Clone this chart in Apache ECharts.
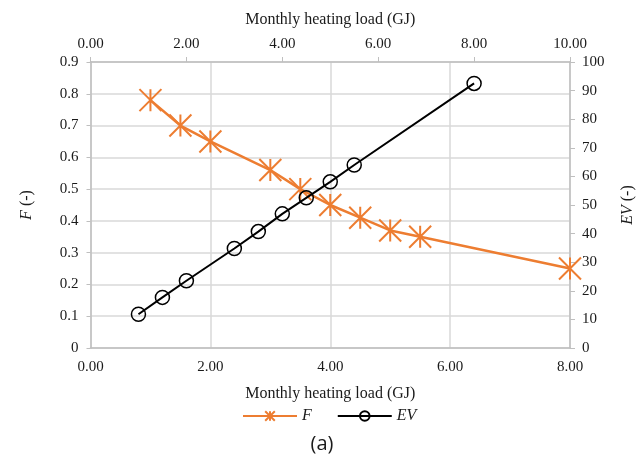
<!DOCTYPE html>
<html>
<head>
<meta charset="utf-8">
<script src="https://cdn.jsdelivr.net/npm/echarts@6/dist/echarts.min.js"></script>
<style>
html,body{margin:0;padding:0;background:#fff;}
#chart{width:644px;height:461px;}
</style>
</head>
<body>
<div id="chart"></div>
<script>
// Data
const loadX = [1.0, 1.5, 2.0, 3.0, 3.5, 4.0, 4.5, 5.0, 5.5, 8.0];          // bottom axis (F)
const fValues = [0.78, 0.70, 0.65, 0.56, 0.50, 0.45, 0.41, 0.37, 0.35, 0.25];
const loadXTop = [1.0, 1.5, 2.0, 3.0, 3.5, 4.0, 4.5, 5.0, 5.5, 8.0];       // top axis (EV)
const evValues = [11.8, 17.7, 23.5, 34.8, 40.7, 46.9, 52.5, 58.1, 64.0, 92.5];
const seriesNames = ['F', 'EV'];
const xAxisTitle = 'Monthly heating load (GJ)';
const caption = '(a)';

const serif = '"Liberation Serif", "DejaVu Serif", serif';
const txt = '#1a1a1a';
const axisGrey = '#bfbfbf';
const gridGrey = '#d9d9d9';

const chart = echarts.init(document.getElementById('chart'));
const starPath = 'path://M0,0L20,20M20,0L0,20M10,0L10,20';

chart.setOption({
  animation: false,
  backgroundColor: '#fff',
  textStyle: { fontFamily: serif, color: txt },
  grid: { left: 90.5, right: 74, top: 62, bottom: 113, containLabel: false, outerBoundsMode: 'none' },
  xAxis: [
    {
      type: 'value', position: 'bottom', min: 0, max: 8, interval: 2,
      name: xAxisTitle, nameLocation: 'middle', nameGap: 38,
      nameTextStyle: { fontFamily: serif, fontSize: 16, color: txt },
      axisLine: { show: true, onZero: false, lineStyle: { color: axisGrey, width: 1.5 } },
      axisTick: { show: false },
      axisLabel: { fontFamily: serif, fontSize: 15, color: txt, margin: 12, formatter: v => v.toFixed(2) },
      splitLine: { show: true, lineStyle: { color: gridGrey, width: 1.5 } }
    },
    {
      type: 'value', position: 'top', min: 0, max: 10, interval: 2,
      name: xAxisTitle, nameLocation: 'middle', nameGap: 34,
      nameTextStyle: { fontFamily: serif, fontSize: 16, color: txt },
      axisLine: { show: true, onZero: false, lineStyle: { color: axisGrey, width: 1.5 } },
      axisTick: { show: true, length: 5, lineStyle: { color: axisGrey, width: 1 } },
      axisLabel: { fontFamily: serif, fontSize: 15, color: txt, margin: 10, formatter: v => v.toFixed(2) },
      splitLine: { show: false }
    }
  ],
  yAxis: [
    {
      type: 'value', position: 'left', min: 0, max: 0.9, interval: 0.1,
      name: '{i|F} (-)', nameLocation: 'middle', nameGap: 56, nameRotate: 90,
      nameTextStyle: { fontFamily: serif, fontSize: 16, color: txt,
        rich: { i: { fontFamily: serif, fontSize: 16, fontStyle: 'italic', color: txt } } },
      axisLine: { show: true, onZero: false, lineStyle: { color: axisGrey, width: 1.5 } },
      axisTick: { show: true, length: 4, lineStyle: { color: axisGrey, width: 1 } },
      axisLabel: { fontFamily: serif, fontSize: 15, color: txt, margin: 12,
        formatter: v => (Math.abs(v) < 1e-9 ? '0' : v.toFixed(1)) },
      splitLine: { show: true, lineStyle: { color: gridGrey, width: 1.5 } }
    },
    {
      type: 'value', position: 'right', min: 0, max: 100, interval: 10,
      name: '{i|EV} (-)', nameLocation: 'middle', nameGap: 50, nameRotate: 90,
      nameTextStyle: { fontFamily: serif, fontSize: 16, color: txt,
        rich: { i: { fontFamily: serif, fontSize: 16, fontStyle: 'italic', color: txt } } },
      axisLine: { show: true, onZero: false, lineStyle: { color: axisGrey, width: 1.5 } },
      axisTick: { show: true, length: 5, lineStyle: { color: axisGrey, width: 1 } },
      axisLabel: { fontFamily: serif, fontSize: 15, color: txt, margin: 12 },
      splitLine: { show: false }
    }
  ],
  legend: {
    top: 403, left: 237, itemGap: 25, itemWidth: 54, itemHeight: 12,
    textStyle: { fontFamily: serif, fontSize: 16, fontStyle: 'italic', color: txt },
    data: seriesNames
  },
  graphic: [{
    type: 'text', left: 'center', top: 434,
    style: { text: caption, font: '20px "Open Sans", "Liberation Sans", sans-serif', fill: txt }
  }],
  series: [
    {
      name: seriesNames[0], type: 'line', xAxisIndex: 0, yAxisIndex: 0,
      data: loadX.map((x, i) => [x, fValues[i]]),
      symbol: starPath, symbolSize: 22,
      lineStyle: { color: '#ED7D31', width: 2.5 },
      itemStyle: { color: '#ED7D31', borderColor: '#ED7D31', borderWidth: 2 },
      z: 3
    },
    {
      name: seriesNames[1], type: 'line', xAxisIndex: 1, yAxisIndex: 1,
      data: loadXTop.map((x, i) => [x, evValues[i]]),
      symbol: 'circle', symbolSize: 14,
      lineStyle: { color: '#000', width: 2 },
      itemStyle: { color: 'rgba(255,255,255,0)', borderColor: '#000', borderWidth: 1.5 },
      z: 4
    }
  ]
});
</script>
</body>
</html>
